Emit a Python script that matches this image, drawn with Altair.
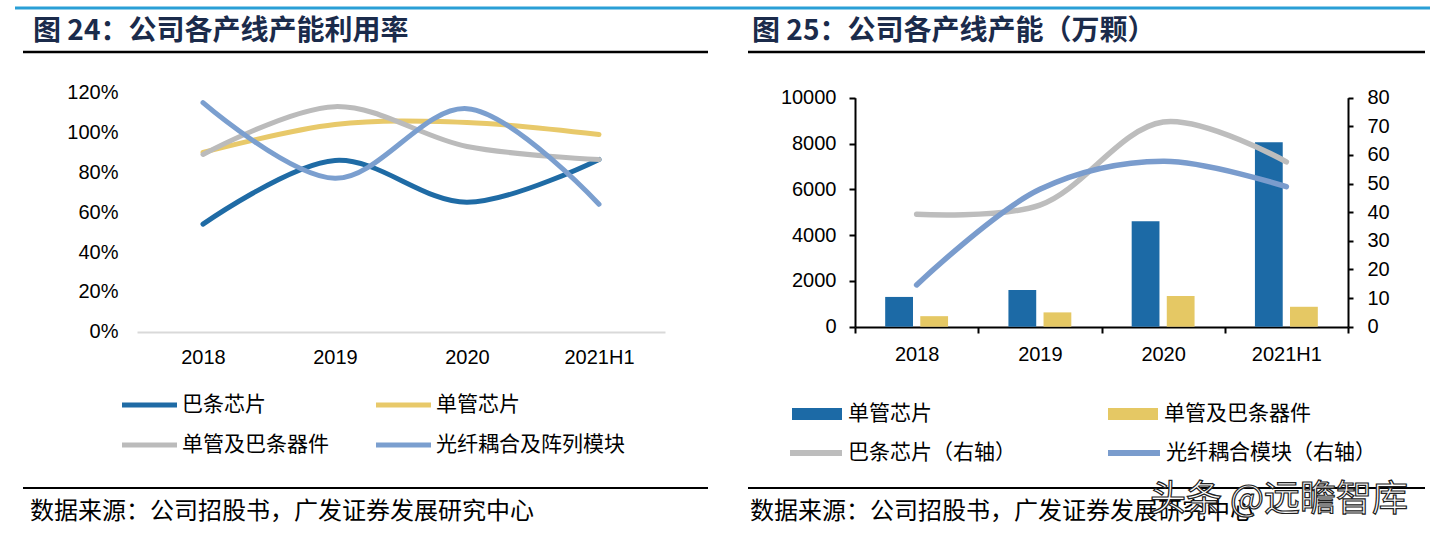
import altair as alt
import pandas as pd

# ---------------- data ----------------
years = ["2018", "2019", "2020", "2021H1"]

util_series = ["巴条芯片", "单管芯片", "单管及巴条器件", "光纤耦合及阵列模块"]
util_bar_chip = [0.54, 0.86, 0.65, 0.865]
util_single_chip = [0.90, 1.04, 1.05, 0.99]
util_device = [0.89, 1.13, 0.93, 0.865]
util_fiber = [1.15, 0.77, 1.12, 0.64]
util_colors = ["#1f6ba5", "#e8c96a", "#bbbbbb", "#7b9fcf"]
util_ticks = [0, 0.2, 0.4, 0.6, 0.8, 1.0, 1.2]

cap_bar_series = ["单管芯片", "单管及巴条器件"]
cap_single_chip = [1300, 1600, 4600, 8050]
cap_device = [460, 625, 1340, 870]
cap_bar_colors = ["#1c6aa6", "#e5c864"]
cap_left_ticks = [0, 2000, 4000, 6000, 8000, 10000]

cap_line_series = ["巴条芯片（右轴）", "光纤耦合模块（右轴）"]
cap_bar_chip_line = [39.3, 42.5, 71.5, 57.6]
cap_fiber_line = [14.6, 48.0, 57.8, 48.9]
cap_line_colors = ["#bdbdbd", "#7a9ccd"]
cap_right_ticks = [0, 10, 20, 30, 40, 50, 60, 70, 80]

titles = ["图 24：公司各产线产能利用率", "图 25：公司各产线产能（万颗）"]
source_text = "数据来源：公司招股书，广发证券发展研究中心"
watermark_text = "头条 @远瞻智库"

CJK = "Noto Sans CJK SC"
LAT = "Liberation Sans"

# ---------------- tables ----------------
left_df = pd.DataFrame({
    "year": years * 4,
    "series": [s for s in util_series for _ in years],
    "value": util_bar_chip + util_single_chip + util_device + util_fiber,
})
bar_df = pd.DataFrame({
    "year": years * 2,
    "series": [s for s in cap_bar_series for _ in years],
    "value": cap_single_chip + cap_device,
})
line_df = pd.DataFrame({
    "year": years * 2,
    "series": [s for s in cap_line_series for _ in years],
    "value": cap_bar_chip_line + cap_fiber_line,
})

# ---------------- left panel ----------------
left = alt.Chart(left_df).mark_line(
    strokeWidth=5, strokeCap="round", interpolate="catmull-rom"
).encode(
    x=alt.X("year:O", sort=years,
            scale=alt.Scale(type="point", range=[137, 665], padding=0.5),
            axis=alt.Axis(title=None, orient="bottom", offset=-203, labelAngle=0,
                          domainColor="#d9d9d9", domainWidth=2, ticks=False, tickSize=0,
                          labelPadding=15)),
    y=alt.Y("value:Q",
            scale=alt.Scale(domain=[0, 1.2], range=[331.7, 92.7], nice=False),
            axis=alt.Axis(title=None, orient="left", offset=-137, values=util_ticks,
                          format=".0%", domain=False, ticks=False, tickSize=0,
                          labelPadding=19, grid=False)),
    stroke=alt.Stroke("series:N",
                      scale=alt.Scale(domain=util_series, range=util_colors),
                      legend=alt.Legend(title=None, orient="none", legendX=119.5, legendY=375,
                                        columns=2, direction="horizontal",
                                        symbolType="stroke", symbolSize=3025,
                                        symbolStrokeWidth=5, labelFont=CJK, labelFontSize=21,
                                        labelColor="#000", labelOffset=2.5, labelLimit=400,
                                        columnPadding=36, rowPadding=-2, padding=0)),
)

# ---------------- right panel ----------------
bars = alt.Chart(bar_df).mark_bar().encode(
    x=alt.X("year:O", sort=years,
            scale=alt.Scale(type="band", range=[855, 1348], paddingInner=0, paddingOuter=0),
            axis=alt.Axis(title=None, orient="bottom", offset=-208, labelAngle=0,
                          domainColor="#000", domainWidth=2, tickColor="#000", tickWidth=2,
                          tickSize=6, tickBand="extent", labelPadding=11)),
    xOffset=alt.XOffset("series:N",
                        scale=alt.Scale(domain=cap_bar_series, paddingInner=0.208, paddingOuter=0.86)),
    y=alt.Y("value:Q",
            scale=alt.Scale(domain=[0, 10000], range=[326.7, 97.7], nice=False),
            axis=alt.Axis(title=None, orient="left", offset=-855, values=cap_left_ticks,
                          format="d", domainColor="#000", domainWidth=2, tickColor="#000",
                          tickWidth=2, tickSize=6, labelPadding=13, grid=False)),
    fill=alt.Fill("series:N",
                  scale=alt.Scale(domain=cap_bar_series, range=cap_bar_colors),
                  legend=alt.Legend(title=None, orient="none", legendX=792, legendY=389,
                                    columns=2, direction="horizontal",
                                    symbolType="M-1,-0.24H1V0.24H-1Z",
                                    symbolSize=2500, symbolStrokeWidth=0,
                                    labelFont=CJK, labelFontSize=21, labelColor="#000",
                                    labelOffset=6, labelLimit=400, columnPadding=176,
                                    padding=0)),
)

lines = alt.Chart(line_df).mark_line(
    strokeWidth=5.5, strokeCap="round", interpolate="catmull-rom"
).encode(
    x=alt.X("year:O", sort=years),
    y=alt.Y("value:Q",
            scale=alt.Scale(domain=[0, 80], range=[326.7, 97.7], nice=False),
            axis=alt.Axis(title=None, orient="right", offset=-82, values=cap_right_ticks,
                          domainColor="#000", domainWidth=2, tickColor="#000", tickWidth=2,
                          tickSize=5, labelPadding=14, grid=False)),
    stroke=alt.Stroke("series:N",
                      scale=alt.Scale(domain=cap_line_series, range=cap_line_colors),
                      legend=alt.Legend(title=None, orient="none", legendX=787, legendY=424,
                                        columns=2, direction="horizontal",
                                        symbolType="stroke", symbolSize=2704,
                                        symbolStrokeWidth=6, labelFont=CJK, labelFontSize=21,
                                        labelColor="#000", labelOffset=3, labelLimit=400,
                                        columnPadding=80, padding=0)),
)

right = alt.layer(bars, lines).resolve_scale(y="independent")

# ---------------- decorations ----------------
one = pd.DataFrame({"k": [0]})


def rule(x1, x2, y, color, w):
    return alt.Chart(one).mark_rule(color=color, strokeWidth=w).encode(
        x=alt.value(x1), x2=alt.value(x2), y=alt.value(y))


def label(text, x, y, size, color="#000", weight="normal", font=CJK):
    return alt.Chart(pd.DataFrame({"t": [text]})).mark_text(
        align="left", baseline="middle", font=font, fontSize=size, fontWeight=weight,
        color=color
    ).encode(x=alt.value(x), y=alt.value(y), text="t:N")


decor = [
    rule(15, 1430, 8, "#2a9fd6", 3),
    rule(23, 708, 52, "#000", 2.5),
    rule(748, 1425, 52, "#000", 2.5),
    rule(23, 708, 488, "#000", 2),
    rule(748, 1425, 488, "#000", 2),
    label(titles[0], 33, 32, 28, color="#1b2b4b", weight="bold"),
    label(titles[1], 752, 32, 28, color="#1b2b4b", weight="bold"),
    label(source_text, 30, 512, 24),
    label(source_text, 750, 512, 24),
]
wm = alt.Chart(pd.DataFrame({"t": [watermark_text]})).mark_text(
    align="left", baseline="middle", font=CJK, fontSize=36, fill="#ffffff",
    stroke="#222222", strokeWidth=1.2
).encode(x=alt.value(1150), y=alt.value(500), text="t:N")

chart = alt.layer(left, right, *decor, wm).resolve_scale(
    x="independent", y="independent", stroke="independent"
).resolve_legend(stroke="independent").properties(
    width=1430, height=535, autosize=alt.AutoSizeParams(type="none"), padding=0,
    background="#ffffff"
).configure_view(strokeWidth=0).configure_axis(
    labelFont=LAT, labelFontSize=20, labelColor="#000", grid=False
)

chart.save("out.html", embed_options={"renderer": "svg", "actions": False})
